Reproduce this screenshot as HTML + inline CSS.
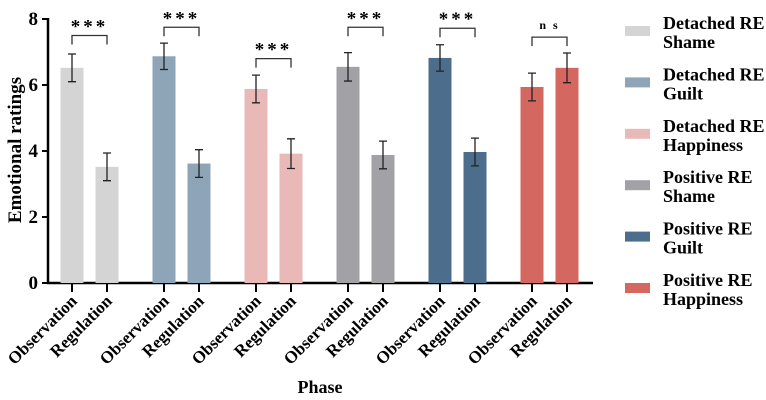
<!DOCTYPE html>
<html><head><meta charset="utf-8"><style>
html,body{margin:0;padding:0;background:#fff;width:766px;height:400px;overflow:hidden}
svg{display:block}
text{font-family:"Liberation Serif","Times New Roman","Noto Serif CJK SC","DejaVu Serif",serif;font-weight:bold}
</style></head><body>
<svg id="chart" width="766" height="400"></svg>
<script>
const groups=["Detached RE Shame","Detached RE Guilt","Detached RE Happiness","Positive RE Shame","Positive RE Guilt","Positive RE Happiness"];
const phases=["Observation","Regulation"];
const obsValues=[6.52,6.87,5.88,6.55,6.82,5.94];
const regValues=[3.52,3.62,3.92,3.88,3.97,6.52];
const obsErr=[0.42,0.40,0.42,0.43,0.40,0.42];
const regErr=[0.42,0.42,0.45,0.42,0.42,0.45];
const sigLabels=["***","***","***","***","***","n s"];
const sigLevel=[7.5,7.75,6.8,7.75,7.72,7.45];
const yTicks=[0,2,4,6,8];
const colors=["#d4d4d4","#8ea5b7","#e9b9b8","#a2a2a6","#4c6e8c","#d4675f"];
const NS="http://www.w3.org/2000/svg";
const FF="'Liberation Serif','Times New Roman','Noto Serif CJK SC','DejaVu Serif',serif";
const svg=document.getElementById('chart');
const y=v=>283-v*33;
const xc=(g,p)=>72+g*92+p*35;
function mk(t,a,parent){const e=document.createElementNS(NS,t);for(const k in a)e.setAttribute(k,a[k]);if(t==='text'){e.setAttribute('font-family',FF);e.setAttribute('font-weight','bold');}(parent||svg).appendChild(e);return e;}
let e=mk('line',{x1:48,y1:18,x2:48,y2:284,stroke:'#000','stroke-width':2.5});


e=mk('line',{x1:47,y1:283,x2:593,y2:283,stroke:'#000','stroke-width':2.5});


yTicks.forEach(t=>{
 let l=mk('line',{x1:42,y1:y(t),x2:48,y2:y(t),stroke:'#000','stroke-width':2});
 
 
 let tx=mk('text',{x:38,y:y(t)+6,'text-anchor':'end','font-size':19});
 tx.textContent=t;
 
 
});
e=mk('text',{x:0,y:0,'text-anchor':'middle','font-size':19,transform:'translate(21,150) rotate(-90)'});
e.textContent='Emotional ratings';


e=mk('text',{x:320,y:393,'text-anchor':'middle','font-size':18});
e.textContent='Phase';


groups.forEach((g,i)=>{
 [obsValues[i],regValues[i]].forEach((v,p)=>{
  const err=p?regErr[i]:obsErr[i];const cx=xc(i,p);
  let r=mk('rect',{x:cx-11.5,y:y(v),width:23,height:283-y(v),fill:colors[i]});
  
  
  let eb=mk('path',{d:`M${cx},${y(v+err)}V${y(v-err)}M${cx-4},${y(v+err)}H${cx+4}M${cx-4},${y(v-err)}H${cx+4}`,stroke:'#222','stroke-width':1.3,fill:'none'});
  
  
  let tk=mk('line',{x1:cx,y1:283,x2:cx,y2:292,stroke:'#000','stroke-width':2});
  
  
  let tl=mk('text',{x:0,y:0,'text-anchor':'end','font-size':17,transform:`translate(${cx+6},${302}) rotate(-45)`});
  tl.textContent=phases[p];
  
  
 });
 const by=y(sigLevel[i]);const x1=xc(i,0),x2=xc(i,1);
 let br=mk('path',{d:`M${x1},${by+9}V${by}H${x2}V${by+9}`,stroke:'#333','stroke-width':1.3,fill:'none'});
 
 
 let st=mk('text',{x:(x1+x2)/2,y:sigLabels[i]==='n s'?by-8:by-3,'text-anchor':'middle','font-size':sigLabels[i]==='n s'?12:19,'letter-spacing':sigLabels[i]==='n s'?2:3});
 st.textContent=sigLabels[i];
 
 
 const ly=31+i*51.4;
 let sw=mk('rect',{x:625,y:ly-5,width:25,height:10,fill:colors[i]});
 
 
 const parts=g.split(' ');
 let t1=mk('text',{x:663,y:ly-2,'font-size':18});
 t1.textContent=parts[0]+' '+parts[1];
 
 
 let t2=mk('text',{x:663,y:ly+17,'font-size':18});
 t2.textContent=parts[2];
 
 
});
</script>
</body></html>
